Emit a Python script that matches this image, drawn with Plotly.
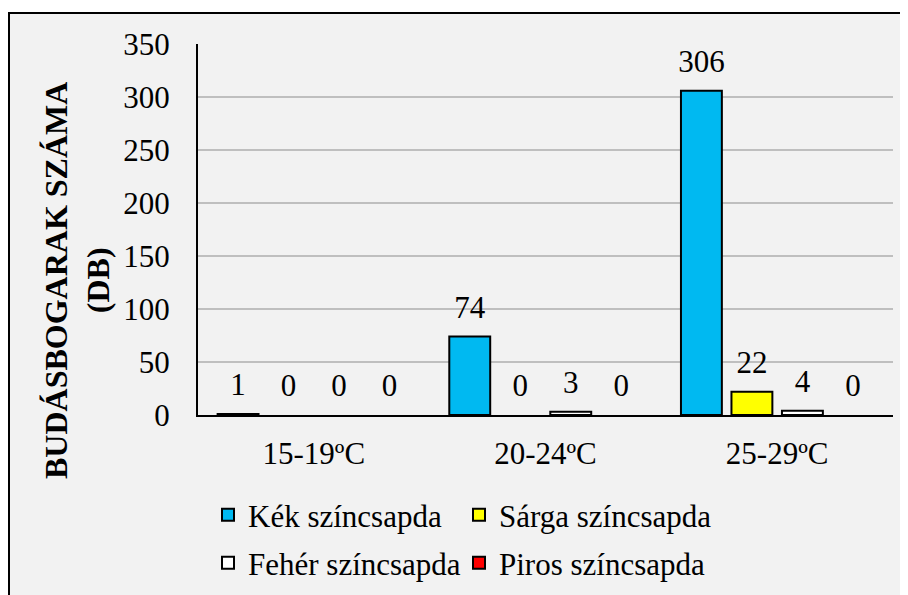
import plotly.graph_objects as go

# hőmérséklet-kategóriák és a csapdák fogásai
kategoriak = ["15-19ºC", "20-24ºC", "25-29ºC"]
kek = [1, 74, 306]
sarga = [0, 0, 22]
feher = [0, 3, 4]
piros = [0, 0, 0]

sorozatok = [
    ("Kék színcsapda", kek, "#00B9F1"),
    ("Sárga színcsapda", sarga, "#FFFF00"),
    ("Fehér színcsapda", feher, "#FFFFFF"),
    ("Piros színcsapda", piros, "#FF0000"),
]

FONT = "Liberation Serif"
FS = 31
OFF = 8  # a html body alapértelmezett margója
W, H = 908 - OFF, 595 - OFF
L, R, T, B = 190, 15, 36, 180

fig = go.Figure()

legend_nevek = ["legend", "legend2", "legend3", "legend4"]

# a nulla értékű oszlopokat nem rajzoljuk ki (csak a felirat marad)
for (nev, ertekek, szin), leg in zip(sorozatok, legend_nevek):
    fig.add_trace(go.Bar(
        x=kategoriak, y=[v if v else None for v in ertekek], name=nev, legend=leg,
        marker=dict(color=szin, line=dict(color="black", width=2)),
        hoverinfo="skip",
    ))

# adatfeliratok (láthatatlan pontok a bárok tetején)
for nev, ertekek, szin in sorozatok:
    fig.add_trace(go.Scatter(
        x=kategoriak, y=ertekek, mode="markers+text",
        text=[str(v) for v in ertekek], textposition="top center",
        textfont=dict(family=FONT, size=FS, color="black"),
        marker=dict(size=16, color="rgba(0,0,0,0)"),
        showlegend=False, hoverinfo="skip", cliponaxis=False,
    ))

# oldal-pixelből papír-koordinátába
pw, ph = W - L - R, H - T - B
def px(x):
    return (x - OFF - L) / pw
def py(y):
    return (H - B - (y - OFF)) / ph

fig.add_shape(type="rect", xref="paper", yref="paper",
              x0=px(9), x1=px(915), y0=py(13), y1=py(605),
              fillcolor="#F2F2F2", line=dict(color="black", width=2),
              layer="below")

fig.add_annotation(
    text="<b>BUDÁSBOGARAK SZÁMA<br>(DB)</b>", textangle=-90,
    xref="paper", yref="paper", x=px(77), y=py(281),
    xanchor="center", yanchor="middle",
    showarrow=False, font=dict(family=FONT, size=32, color="black"),
)

# jelmagyarázat: 2x2 elrendezés, oldal-pixelben (szöveg kezdete, sor közepe)
def jelmagyarazat(szoveg_x, sor_y):
    return dict(orientation="h", xref="container", yref="container",
                x=(szoveg_x - OFF - 39) / W, y=1 - (sor_y - OFF) / H,
                xanchor="left", yanchor="middle", bgcolor="rgba(0,0,0,0)",
                font=dict(family=FONT, size=FS, color="black"))

fig.update_layout(
    width=W, height=H,
    margin=dict(l=L, r=R, t=T, b=B),
    paper_bgcolor="white",
    plot_bgcolor="rgba(0,0,0,0)",
    barmode="group", bargap=0.128, bargroupgap=0.19,
    scattermode="group", scattergap=0.128,
    font=dict(family=FONT, size=FS, color="black"),
    legend=jelmagyarazat(247, 515),
    legend2=jelmagyarazat(498, 515),
    legend3=jelmagyarazat(247, 563),
    legend4=jelmagyarazat(498, 563),
    xaxis=dict(showline=True, linecolor="black", linewidth=2,
               showgrid=False, ticks="", ticklabelstandoff=10,
               tickfont=dict(family=FONT, size=FS, color="black")),
    yaxis=dict(range=[0, 350], dtick=50, showline=True, linecolor="black",
               linewidth=2, gridcolor="#BFBFBF", gridwidth=2, zeroline=False,
               ticks="", ticklabelstandoff=20,
               tickfont=dict(family=FONT, size=FS, color="black")),
)

fig.write_html("out.html")
